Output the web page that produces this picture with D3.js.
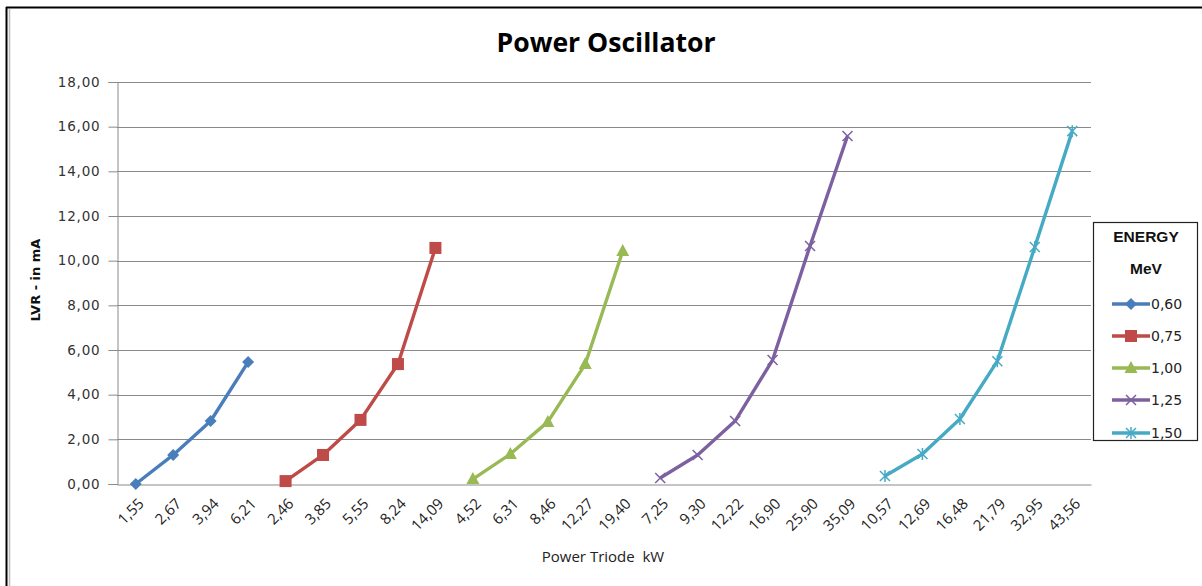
<!DOCTYPE html>
<html><head><meta charset="utf-8">
<script src="https://cdn.jsdelivr.net/npm/d3@7"></script>
<style>
html,body{margin:0;padding:0;background:#fff;}
svg{display:block;}
</style></head>
<body>
<svg id="c" width="1202" height="586"></svg>
<script>
const categories = ["1,55","2,67","3,94","6,21","2,46","3,85","5,55","8,24","14,09","4,52","6,31","8,46","12,27","19,40","7,25","9,30","12,22","16,90","25,90","35,09","10,57","12,69","16,48","21,79","32,95","43,56"];
const seriesNames = ["0,60","0,75","1,00","1,25","1,50"];
const s060 = [0.00, 1.30, 2.82, 5.46];
const s075 = [0.13, 1.30, 2.87, 5.37, 10.57];
const s100 = [0.22, 1.34, 2.78, 5.37, 10.43];
const s125 = [0.27, 1.30, 2.82, 5.55, 10.66, 15.58];
const s150 = [0.36, 1.34, 2.91, 5.50, 10.61, 15.80];
const seriesStart = [0, 4, 9, 14, 20];
const yTicks = [0,2,4,6,8,10,12,14,16,18];
const colors = ["#4A7EBB","#BE4B48","#98B954","#7D60A0","#46AAC5"];
const markers = ["diamond","square","triangle","x","star"];
const allSeries = [s060, s075, s100, s125, s150];

const svg = d3.select("#c");
// frame
svg.append("line").attr("x1",6.5).attr("y1",7).attr("x2",6.5).attr("y2",586).attr("stroke","#000").attr("stroke-width",2);
svg.append("line").attr("x1",6).attr("y1",7.5).attr("x2",1202).attr("y2",7.5).attr("stroke","#000").attr("stroke-width",2);
svg.append("line").attr("x1",9.5).attr("y1",9).attr("x2",9.5).attr("y2",586).attr("stroke","#bbb").attr("stroke-width",1.5);

const L = 117, R = 1091, T = 82, B = 484;
const x = d3.scaleBand().domain(d3.range(categories.length)).range([L, R]);
const y = d3.scaleLinear().domain([0, 18]).range([B, T]);

// title
svg.append("text").attr("x",606).attr("y",52).attr("text-anchor","middle")
  .attr("font-family","'Open Sans',sans-serif").attr("font-weight","bold")
  .attr("font-size",27).attr("textLength",219).attr("lengthAdjust","spacingAndGlyphs")
  .attr("fill","#000").text("Power Oscillator");

// gridlines
svg.append("g").selectAll("line").data(yTicks.filter(d=>d>0)).join("line")
  .attr("x1",L).attr("x2",R).attr("y1",d=>Math.round(y(d))+0.5).attr("y2",d=>Math.round(y(d))+0.5)
  .attr("stroke","#8a8a8a").attr("stroke-width",1);

// y axis
const yAxis = d3.axisLeft(y).tickValues(yTicks).tickSize(9).tickPadding(8)
  .tickFormat(d => d3.format(".2f")(d).replace(".", ","));
const gy = svg.append("g").attr("transform",`translate(${L+0.5},0)`).call(yAxis);
gy.select(".domain").attr("stroke","#8a8a8a");
gy.selectAll(".tick line").attr("stroke","#8a8a8a");
gy.selectAll(".tick text").attr("font-family","'DejaVu Sans',Verdana,sans-serif").attr("font-size",13.5)
  .attr("fill","#333").attr("letter-spacing","0.8px");

// x axis
const xAxis = d3.axisBottom(x).tickSize(0).tickFormat(i => categories[i]);
const gx = svg.append("g").attr("transform",`translate(0,${B+0.5})`).call(xAxis);
gx.select(".domain").attr("stroke","#8a8a8a");
gx.selectAll(".tick text").attr("font-family","'Open Sans',sans-serif").attr("font-size",15)
  .attr("fill","#222").attr("text-anchor","end").attr("dy",0)
  .attr("transform","translate(7,18) rotate(-45)");

// axis titles
svg.append("text").attr("x",603).attr("y",562).attr("text-anchor","middle").style("white-space","pre")
  .attr("font-family","'Open Sans',sans-serif").attr("font-size",15).attr("fill","#222").text("Power Triode\u00a0\u00a0kW");
svg.append("text").attr("transform","translate(40,280) rotate(-90)").attr("text-anchor","middle")
  .attr("font-family","'DejaVu Sans',Verdana,sans-serif").attr("font-weight","bold").attr("font-size",13)
  .attr("fill","#111").text("LVR - in mA");

function drawMarker(g, type, color, cx, cy) {
  if (type === "diamond") {
    g.append("path").attr("d",`M${cx},${cy-6}L${cx+6},${cy}L${cx},${cy+6}L${cx-6},${cy}Z`).attr("fill",color);
  } else if (type === "square") {
    g.append("rect").attr("x",cx-6).attr("y",cy-6).attr("width",12).attr("height",12).attr("fill",color);
  } else if (type === "triangle") {
    g.append("path").attr("d",`M${cx},${cy-7}L${cx+6.5},${cy+5}L${cx-6.5},${cy+5}Z`).attr("fill",color);
  } else if (type === "x") {
    g.append("path").attr("d",`M${cx-5},${cy-5}L${cx+5},${cy+5}M${cx-5},${cy+5}L${cx+5},${cy-5}`)
      .attr("stroke",color).attr("stroke-width",1.5);
  } else if (type === "star") {
    g.append("path").attr("d",`M${cx-5},${cy-5}L${cx+5},${cy+5}M${cx-5},${cy+5}L${cx+5},${cy-5}M${cx},${cy-6}L${cx},${cy+6}`)
      .attr("stroke",color).attr("stroke-width",1.5);
  }
}

const line = d3.line().x(d=>d[0]).y(d=>d[1]);
allSeries.forEach((vals, si) => {
  const pts = vals.map((v, j) => [x(seriesStart[si]+j) + x.bandwidth()/2, y(v)]);
  const g = svg.append("g");
  g.append("path").attr("d", line(pts)).attr("fill","none").attr("stroke",colors[si])
    .attr("stroke-width",3.4).attr("stroke-linejoin","round");
  pts.forEach(p => drawMarker(g, markers[si], colors[si], p[0], p[1]));
});

// legend
const lg = svg.append("g");
lg.append("rect").attr("x",1093.5).attr("y",222.5).attr("width",104).attr("height",218)
  .attr("fill","#fff").attr("stroke","#222").attr("stroke-width",1.2);
lg.append("text").attr("x",1146).attr("y",242).attr("text-anchor","middle")
  .attr("font-family","'Liberation Sans',Arial,sans-serif").attr("font-weight","bold").attr("font-size",15.5)
  .attr("fill","#111").text("ENERGY");
lg.append("text").attr("x",1146).attr("y",274).attr("text-anchor","middle")
  .attr("font-family","'Liberation Sans',Arial,sans-serif").attr("font-weight","bold").attr("font-size",15.5)
  .attr("fill","#111").text("MeV");
const legY = [304, 336, 368, 400, 433];
seriesNames.forEach((n, i) => {
  const yy = legY[i];
  lg.append("line").attr("x1",1112).attr("x2",1150).attr("y1",yy).attr("y2",yy)
    .attr("stroke",colors[i]).attr("stroke-width",3.4);
  drawMarker(lg, markers[i], colors[i], 1131, yy);
  lg.append("text").attr("x",1151).attr("y",yy+5)
    .attr("font-family","'DejaVu Sans',Verdana,sans-serif").attr("font-size",14).attr("fill","#222")
    .text(n);
});
</script>
</body></html>
